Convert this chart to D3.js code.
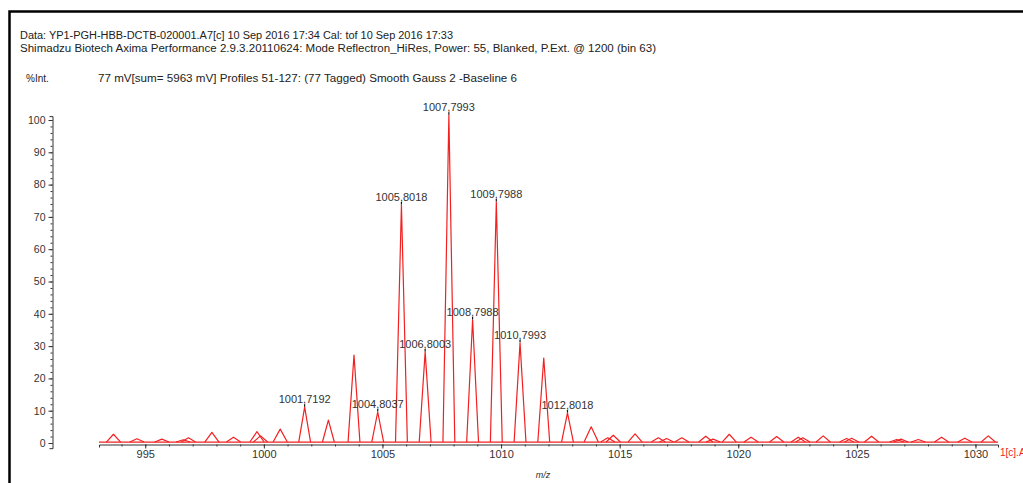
<!DOCTYPE html>
<html>
<head>
<meta charset="utf-8">
<script src="https://cdn.jsdelivr.net/npm/d3@7"></script>
<style>
  html, body { margin: 0; padding: 0; background: #fff; overflow: hidden; }
  svg { display: block; font-family: "Liberation Sans", Arial, sans-serif; }
</style>
</head>
<body>
<div id="chart"></div>
<script>
// header texts
const headerLines = [
  "Data: YP1-PGH-HBB-DCTB-020001.A7[c] 10 Sep 2016 17:34 Cal: tof 10 Sep 2016 17:33",
  "Shimadzu Biotech Axima Performance 2.9.3.20110624: Mode Reflectron_HiRes, Power: 55, Blanked, P.Ext. @ 1200 (bin 63)",
];
const yTitle = "%Int.";
const acqInfo = "77 mV[sum= 5963 mV]  Profiles 51-127: (77 Tagged) Smooth Gauss 2 -Baseline 6";
const xTitle = "m/z";
const traceName = "1[c].A7";

// peaks (m/z, %Int)
const peakMz = [
  993.66, 994.65, 995.70, 996.60, 996.82, 997.81, 998.72, 999.71, 999.86, 1000.69,
  1001.72, 1002.72, 1003.80, 1004.80, 1005.80, 1006.80, 1007.80, 1008.80, 1009.80,
  1010.80, 1011.80, 1012.80, 1013.80, 1014.50, 1014.73, 1015.65, 1016.63, 1016.98,
  1017.62, 1018.63, 1018.94, 1019.62, 1020.54, 1021.62, 1022.53, 1022.72, 1023.58,
  1024.57, 1024.78, 1025.62, 1026.68, 1026.86, 1027.59, 1028.57, 1029.55, 1030.54,
];
const peakInt = [
  2.7, 1.3, 1.2, 1.0, 1.6, 3.3, 1.8, 3.5, 2.2, 4.3,
  11.1, 7.1, 27.2, 9.6, 73.7, 28.2, 101.5, 38.1, 74.6,
  31.0, 26.3, 9.3, 5.0, 1.6, 2.4, 2.8, 1.6, 1.4,
  1.6, 2.1, 1.2, 2.7, 1.8, 2.0, 1.8, 1.6, 2.2,
  1.4, 1.5, 2.1, 1.1, 1.2, 1.1, 1.8, 1.5, 2.2,
];

// annotated peaks
const labelMz = [1001.72, 1004.80, 1005.80, 1006.80, 1007.80, 1008.80, 1009.80, 1010.80, 1012.80];
const labelText = ["1001,7192", "1004,8037", "1005,8018", "1006,8003", "1007,7993",
  "1008,7988", "1009,7988", "1010,7993", "1012,8018"];

const xTicks = [995, 1000, 1005, 1010, 1015, 1020, 1025, 1030];
const yTicks = [0, 10, 20, 30, 40, 50, 60, 70, 80, 90, 100];

const WIDTH = 1023;
const HEIGHT = 483;
const RED = "#f22020";
const INK = "#333";

const svg = d3.select("#chart").append("svg")
  .attr("width", WIDTH)
  .attr("height", HEIGHT);

// frame (top + left edge of the printout)
svg.append("path")
  .attr("d", `M9.5,${HEIGHT} V11.5 H${WIDTH}`)
  .attr("fill", "none")
  .attr("stroke", "#000")
  .attr("stroke-width", 2.5);

// header
const headerWidths = [433, 636];
headerLines.forEach((t, i) => {
  svg.append("text")
    .attr("x", 20)
    .attr("y", 39 + i * 12.5)
    .attr("font-size", 10)
    .attr("fill", "#222")
    .attr("textLength", headerWidths[i])
    .attr("lengthAdjust", "spacingAndGlyphs")
    .text(t);
});
svg.append("text")
  .attr("x", 26).attr("y", 81.5)
  .attr("font-size", 10).attr("fill", "#222")
  .text(yTitle);
svg.append("text")
  .attr("x", 98).attr("y", 81.5)
  .attr("font-size", 10).attr("fill", "#222")
  .attr("textLength", 419)
  .attr("lengthAdjust", "spacingAndGlyphs")
  .text(acqInfo);

// scales
const x = d3.scaleLinear([993.05, 1030.95], [99, 998]);
const y = d3.scaleLinear([0, 100], [443, 120]);

// y axis (major + minor)
const yAxisG = svg.append("g").attr("transform", "translate(52.5,0)");
const yScaleAxis = y.copy().domain([-1.6, 101.2]).range([y(-1.6), y(101.2)]);
yAxisG.call(d3.axisLeft(yScaleAxis).tickValues(d3.range(0, 101, 2)).tickSize(2).tickSizeOuter(3).tickFormat(""));
yAxisG.append("g").call(d3.axisLeft(y).tickValues(yTicks).tickSize(4).tickSizeOuter(0))
  .call((g) => g.select(".domain").remove());
yAxisG.selectAll("path, line").attr("stroke", INK);
yAxisG.selectAll("text")
  .attr("font-size", 10.5)
  .attr("font-family", "Liberation Sans, Arial, sans-serif")
  .attr("fill", INK)
  .attr("x", -7);

// x axis (major + minor)
const xAxisG = svg.append("g").attr("transform", "translate(0,444.5)");
xAxisG.call(d3.axisBottom(x).tickValues(d3.range(994, 1031, 1)).tickSize(2).tickSizeOuter(3).tickFormat(""));
xAxisG.append("g")
  .call(d3.axisBottom(x).tickValues(xTicks).tickSize(4).tickSizeOuter(0).tickFormat(d3.format("d")))
  .call((g) => g.select(".domain").remove());
xAxisG.selectAll("path, line").attr("stroke", INK);
xAxisG.selectAll("text")
  .attr("font-size", 11)
  .attr("font-family", "Liberation Sans, Arial, sans-serif")
  .attr("fill", INK)
  .attr("y", 6);

svg.append("text")
  .attr("x", 543).attr("y", 478)
  .attr("text-anchor", "middle")
  .attr("font-size", 9).attr("font-style", "italic")
  .attr("fill", INK)
  .text(xTitle);

// trace
const line = d3.line().x((d) => x(d[0])).y((d) => y(d[1]));
const trace = svg.append("g")
  .attr("fill", "none")
  .attr("stroke", RED)
  .attr("stroke-width", 1.2)
  .attr("stroke-linejoin", "round");

trace.append("path")
  .attr("d", line([[x.domain()[0], 0.3], [x.domain()[1], 0.3]]));

d3.zip(peakMz, peakInt).forEach(([mz, h]) => {
  const hw = h > 5 ? 0.25 : 0.3;
  trace.append("path")
    .attr("d", line([[mz - hw, 0.3], [mz, h], [mz + hw, 0.3]]));
});

// peak annotations
d3.zip(labelMz, labelText).forEach(([mz, t]) => {
  const h = peakInt[peakMz.indexOf(mz)];
  svg.append("line")
    .attr("x1", x(mz)).attr("x2", x(mz))
    .attr("y1", y(h) - 3).attr("y2", y(h) - 0.5)
    .attr("stroke", "#111").attr("stroke-width", 1.2);
  svg.append("text")
    .attr("x", x(mz)).attr("y", y(h) - 4)
    .attr("text-anchor", "middle")
    .attr("font-size", 11)
    .attr("fill", INK)
    .text(t);
});

svg.append("text")
  .attr("x", 1000).attr("y", 456)
  .attr("font-size", 10)
  .attr("fill", RED)
  .text(traceName);
</script>
</body>
</html>
